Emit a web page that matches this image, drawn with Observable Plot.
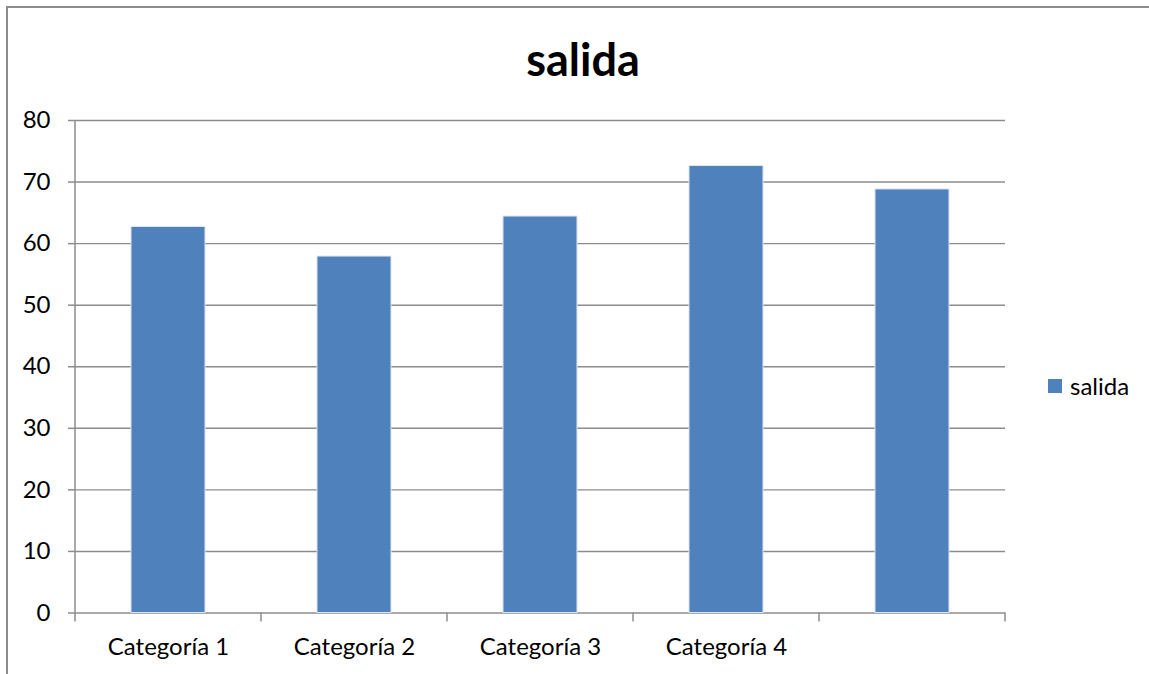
<!DOCTYPE html>
<html>
<head>
<meta charset="utf-8">
<script src="https://cdn.jsdelivr.net/npm/d3@7"></script>
<script src="https://cdn.jsdelivr.net/npm/@observablehq/plot@0.6"></script>
<style>
  html, body { margin: 0; padding: 0; background: #fff; }
  #wrap { position: relative; width: 1149px; height: 674px; overflow: hidden; font-family: Lato, "Open Sans", sans-serif; }
  #frame { position: absolute; left: 6px; top: 6px; width: 1200px; height: 800px; border-top: 2px solid #8c8c8c; border-left: 2px solid #8c8c8c; box-sizing: border-box; }
  #title { position: absolute; left: 0; width: 1166px; top: 33px; text-align: center; font-weight: bold; font-size: 45px; line-height: 52px; color: #000; }
  #chart { position: absolute; left: 0; top: 95px; }
  #legend { position: absolute; left: 1048px; top: 372px; display: flex; align-items: center; font-size: 24px; line-height: 28px; color: #000; }
  #legend .sw { width: 14px; height: 14px; background: #4f81bd; margin-right: 8px; }
</style>
</head>
<body>
<div id="wrap">
  <div id="frame"></div>
  <div id="title">salida</div>
  <div id="chart"></div>
  <div id="legend"><div class="sw"></div><span>salida</span></div>
</div>
<script>
const categories = ["Categoría 1", "Categoría 2", "Categoría 3", "Categoría 4", ""];
const values = [62.7, 57.9, 64.4, 72.6, 68.8];
const yTicks = [0, 10, 20, 30, 40, 50, 60, 70, 80];
const seriesName = "salida";

const data = categories.map((c, i) => ({cat: c, value: values[i]}));
const axisColor = "#8c8c8c";

function frameLines(index, scales, values, dims) {
  const g = d3.create("svg:g");
  const x0 = dims.marginLeft, x1 = dims.width - dims.marginRight;
  const y0 = scales.y(0), yTop = scales.y(yTicks[yTicks.length - 1]);
  // vertical axis line
  g.append("line").attr("x1", x0).attr("x2", x0).attr("y1", yTop).attr("y2", y0)
    .attr("stroke", axisColor).attr("stroke-width", 1.5);
  // category boundary ticks
  const n = categories.length;
  const step = (x1 - x0) / n;
  for (let i = 0; i <= n; i++) {
    const bx = x0 + i * step;
    g.append("line").attr("x1", bx).attr("x2", bx).attr("y1", y0).attr("y2", y0 + 9)
      .attr("stroke", axisColor).attr("stroke-width", 1.5);
  }
  return g.node();
}

const plot = Plot.plot({
  width: 1149,
  height: 579,
  marginLeft: 75,
  marginRight: 144,
  marginTop: 25,
  marginBottom: 61.5,
  style: {fontFamily: "Lato, 'Open Sans', sans-serif", fontSize: "24px", color: "#000", background: "transparent", overflow: "visible"},
  x: {type: "band", domain: categories, paddingInner: 0.6, paddingOuter: 0.3},
  y: {domain: [0, 80]},
  marks: [
    Plot.gridY(yTicks, {stroke: axisColor, strokeOpacity: 1, strokeWidth: 1.4}),
    Plot.barY(data, {x: "cat", y: "value", fill: "#4f81bd", stroke: "#dce6f2", strokeWidth: 1}),
    Plot.axisY(yTicks, {tickSize: 7, tickPadding: 18, stroke: axisColor, strokeWidth: 1.5, fill: "#000", label: null, tickFormat: d => String(d), fontSize: 24}),
    Plot.axisX({tickSize: 0, tickPadding: 25, fill: "#000", label: null, fontSize: 24}),
    frameLines
  ]
});
document.getElementById("chart").appendChild(plot);
</script>
</body>
</html>
